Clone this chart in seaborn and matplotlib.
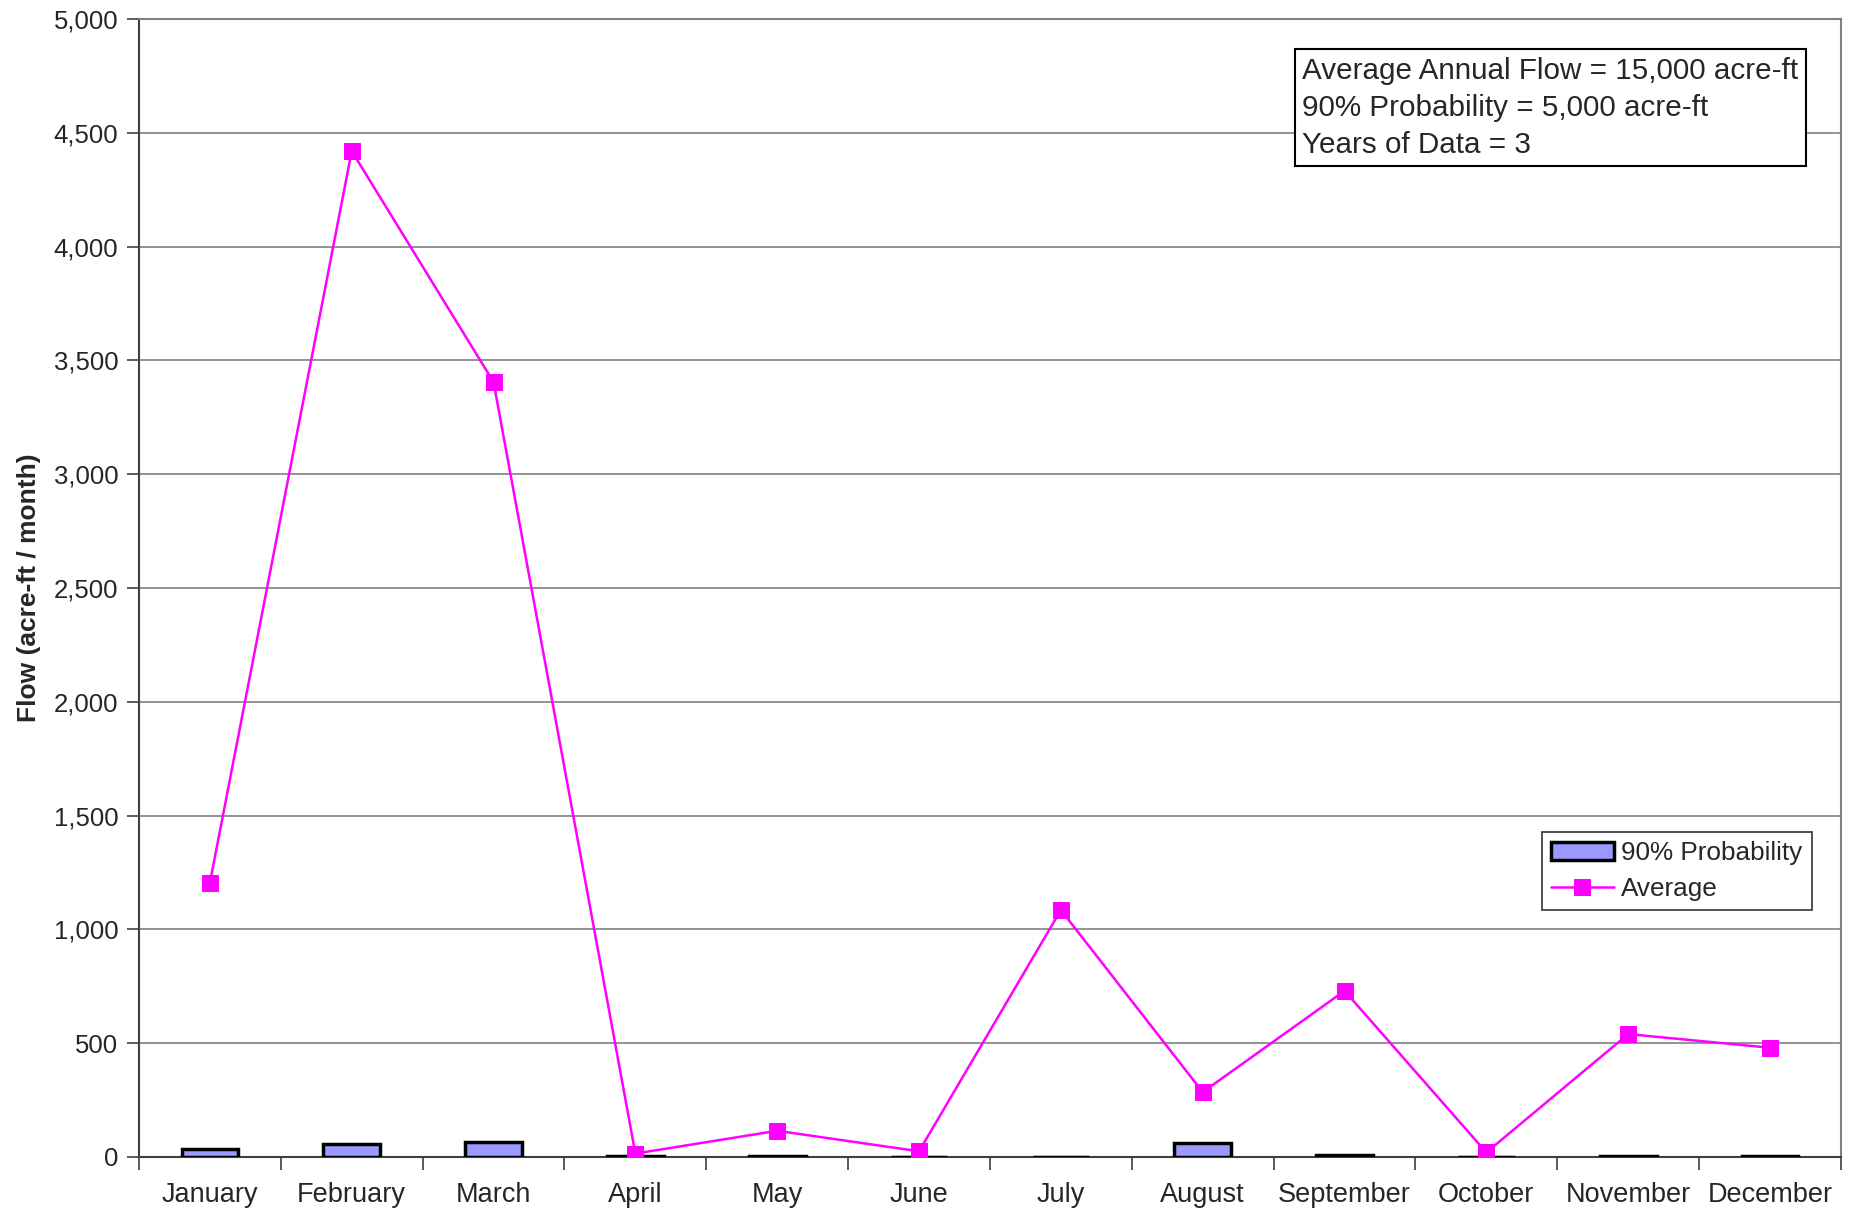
import matplotlib.pyplot as plt
import matplotlib.ticker as mticker
import numpy as np
import pandas as pd
import seaborn as sns

months = ["January", "February", "March", "April", "May", "June",
          "July", "August", "September", "October", "November", "December"]
prob90 = [34, 58, 67, 6, 5, 0, 0, 61, 8, 0, 5, 4]
average = [1205, 4420, 3405, 15, 115, 25, 1085, 285, 730, 20, 540, 480]

note_lines = ["Average Annual Flow = 15,000 acre-ft",
              "90% Probability = 5,000 acre-ft",
              "Years of Data = 3"]

df = pd.DataFrame({"month": months, "prob90": prob90, "average": average})

sns.set_style("white")
plt.rcParams["font.family"] = ["Liberation Sans", "DejaVu Sans"]

fig = plt.figure(figsize=(18.53, 12.12), dpi=100)
ax = fig.add_axes([0.075, 0.0454, 0.9185, 0.9389])

sns.barplot(data=df, x="month", y="prob90", color="#9999ff",
            saturation=1, edgecolor="black", linewidth=2.5, width=0.4,
            ax=ax, label="90% Probability", zorder=3)
sns.lineplot(data=df, x="month", y="average", color="#ff00ff",
             marker="s", markersize=11, markeredgecolor="#ff00ff",
             linewidth=1.8, ax=ax, label="Average", zorder=4)

ax.set_xlim(-0.5, 11.5)
ax.set_ylim(0, 5000)
ax.yaxis.set_major_locator(mticker.MultipleLocator(500))
ax.yaxis.set_major_formatter(mticker.FuncFormatter(lambda v, p: f"{int(v):,}"))
ax.grid(axis="y", color="#808080", linewidth=1.2, zorder=0)
ax.set_axisbelow(True)

# category ticks between months
ax.set_xticks(range(12))
ax.set_xticklabels(months)
ax.set_xticks(np.arange(-0.5, 12, 1), minor=True)
ax.tick_params(axis="x", which="major", length=0, pad=18, labelsize=19.5)
ax.tick_params(axis="x", which="minor", length=9, width=1.2,
               direction="out", bottom=True, color="#404040")
ax.tick_params(axis="y", length=9, width=1.2, direction="out", left=True,
               labelsize=18.5, pad=6, color="#404040")

for side in ["left", "bottom"]:
    ax.spines[side].set_color("#404040")
    ax.spines[side].set_linewidth(1.5)
for side in ["top", "right"]:
    ax.spines[side].set_visible(True)
    ax.spines[side].set_color("#808080")
    ax.spines[side].set_linewidth(1.5)

ax.set_xlabel("")
ax.set_ylabel("Flow (acre-ft / month)", fontsize=19, fontweight="bold",
              labelpad=9)

ax.text(0.6835, 0.967, "\n".join(note_lines), transform=ax.transAxes,
        fontsize=21.3, va="top", ha="left", linespacing=1.42,
        bbox=dict(boxstyle="square,pad=0.25", facecolor="white",
                  edgecolor="black", linewidth=1.5), zorder=5)

handles, labels = ax.get_legend_handles_labels()
order = [labels.index("90% Probability"), labels.index("Average")]
leg = ax.legend([handles[i] for i in order], [labels[i] for i in order],
                loc="lower right", bbox_to_anchor=(0.9905, 0.2055),
                fontsize=18.8, frameon=True, fancybox=False,
                borderpad=0.35, handlelength=2.4, labelspacing=0.45,
                handletextpad=0.3)
leg.get_frame().set_edgecolor("black")
leg.get_frame().set_linewidth(1.2)

fig.savefig("out.png", dpi=100)
